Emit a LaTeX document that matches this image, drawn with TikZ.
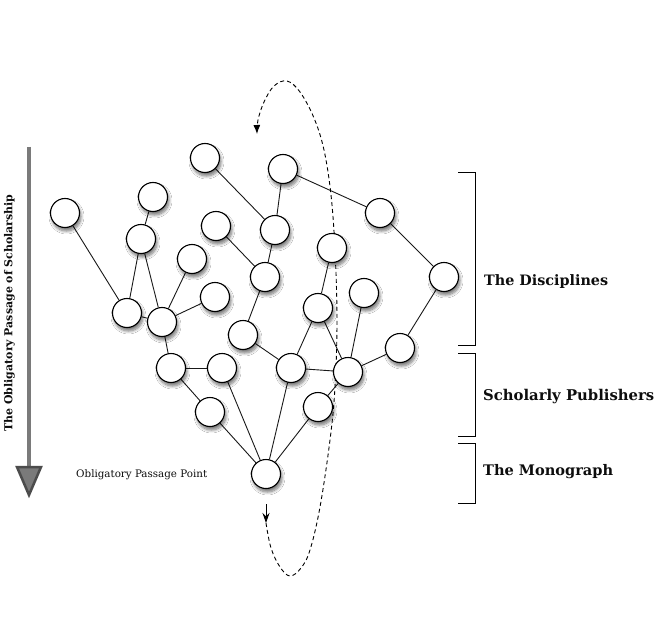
\documentclass[tikz,border=0pt]{standalone}
\usepackage{fontspec}
\setmainfont{DejaVu Serif}
\usetikzlibrary{shadows.blur,arrows.meta,backgrounds}
\newcommand{\fitw}[2]{\resizebox{#1}{!}{#2}}
\begin{document}
\begin{tikzpicture}[x=1bp,y=-1bp,
  nd/.style={circle, draw=black, line width=1.1bp, fill=white, minimum size=29bp, inner sep=0pt,
    blur shadow={shadow xshift=1.5bp, shadow yshift=-3.5bp, shadow opacity=55, shadow blur radius=3bp, shadow blur steps=8}},
  ed/.style={line width=0.9bp, black!90},
  lbl/.style={anchor=base west, inner sep=0pt, text=black!95},
  brk/.style={line width=1bp, black},
  dsh/.style={line width=0.9bp, dash pattern=on 4bp off 3bp}]
\useasboundingbox (0,0) rectangle (655,623);

% nodes
\node[nd] (A) at (65,213) {};
\node[nd] (B) at (153,197) {};
\node[nd] (C) at (141,239) {};
\node[nd] (D) at (205,158) {};
\node[nd] (E) at (283,169) {};
\node[nd] (F) at (216,226) {};
\node[nd] (G) at (275,230) {};
\node[nd] (H) at (380,213) {};
\node[nd] (I) at (192,259) {};
\node[nd] (J) at (332,248) {};
\node[nd] (K) at (444,277) {};
\node[nd] (L) at (215,297) {};
\node[nd] (M) at (265,277) {};
\node[nd] (N) at (127,313) {};
\node[nd] (O) at (162,322) {};
\node[nd] (P) at (364,293) {};
\node[nd] (Q) at (318,308) {};
\node[nd] (R) at (243,335) {};
\node[nd] (S) at (400,348) {};
\node[nd] (T) at (171,368) {};
\node[nd] (U) at (222,368) {};
\node[nd] (V) at (291,368) {};
\node[nd] (W) at (348,372) {};
\node[nd] (X) at (210,412) {};
\node[nd] (Y) at (318,407) {};
\node[nd] (Z) at (266,474) {};

\begin{pgfonlayer}{background}
\fill[white] (0,0) rectangle (655,623);
% edges
\draw[ed] (A) -- (N);
\draw[ed] (B) -- (C);
\draw[ed] (C) -- (N);
\draw[ed] (C) -- (O);
\draw[ed] (N) -- (O);
\draw[ed] (I) -- (O);
\draw[ed] (L) -- (O);
\draw[ed] (O) -- (T);
\draw[ed] (T) -- (U);
\draw[ed] (T) -- (X);
\draw[ed] (X) -- (Z);
\draw[ed] (U) -- (Z);
\draw[ed] (D) -- (G);
\draw[ed] (E) -- (G);
\draw[ed] (E) -- (H);
\draw[ed] (H) -- (K);
\draw[ed] (F) -- (M);
\draw[ed] (G) -- (M);
\draw[ed] (M) -- (R);
\draw[ed] (R) -- (V);
\draw[ed] (V) -- (Q);
\draw[ed] (Q) -- (J);
\draw[ed] (Q) -- (W);
\draw[ed] (V) -- (W);
\draw[ed] (P) -- (W);
\draw[ed] (W) -- (S);
\draw[ed] (S) -- (K);
\draw[ed] (W) -- (Y);
\draw[ed] (V) -- (Z);
\draw[ed] (Y) -- (Z);

% dashed loop
\coordinate (s0) at (266,504);
\coordinate (s1) at (266,523);
\draw[line width=0.9bp, -{Stealth[length=10bp,width=7bp]}] (s0) -- (s1);
\draw[dsh, -{Latex[length=9bp,width=7bp]}] plot[smooth, tension=0.6] coordinates {
  (266,523) (271,548) (280,567) (290,576) (301,568) (310,550) (320,507) (330,440)
  (335,387) (337,320) (335,250) (331,195) (324,150) (314,118) (300,92) (287,81)
  (274,86) (264,102) (258,120) (257,134)};
\end{pgfonlayer}

% vertical gray arrow
\draw[line width=4bp, black!52] (29,147) -- (29,468);
\draw[line width=2.5bp, black!70, fill=black!52, line join=miter] (17,467) -- (41,467) -- (29,495) -- cycle;
\node[rotate=90, inner sep=0pt, text=black!95] (ttl) at (9.5,313) {\fitw{237bp}{\bfseries The Obligatory Passage of Scholarship}};

% brackets
\draw[brk] (458,173) -- (475,173) -- (475,345) -- (458,345);
\draw[brk] (458,353) -- (475,353) -- (475,436) -- (458,436);
\draw[brk] (458,443) -- (475,443) -- (475,503) -- (458,503);

% labels
\node[lbl] (l1) at (484,285) {\fitw{124bp}{\bfseries The Disciplines}};
\node[lbl] (l2) at (483,400) {\fitw{171bp}{\bfseries Scholarly Publishers}};
\node[lbl] (l3) at (483,475) {\fitw{130bp}{\bfseries The Monograph}};
\node[lbl] (l4) at (76,477) {\fitw{131bp}{Obligatory Passage Point}};
\end{tikzpicture}
\end{document}
